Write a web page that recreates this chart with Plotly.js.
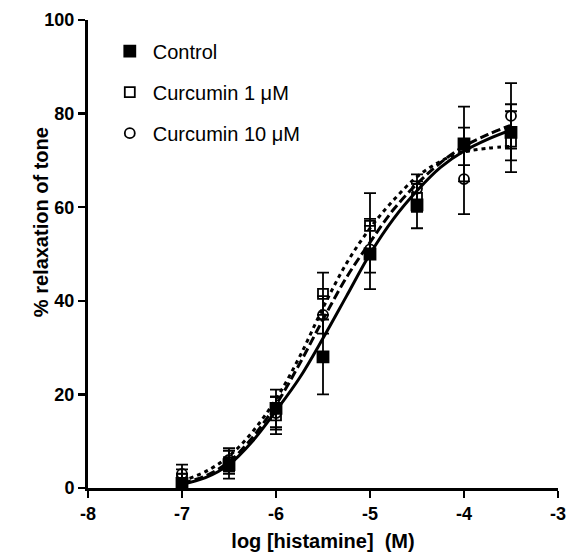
<!DOCTYPE html>
<html>
<head>
<meta charset="utf-8">
<script src="https://cdn.plot.ly/plotly-3.0.1.min.js"></script>
<style>html,body{margin:0;padding:0;background:#fff;}#chart{width:567px;height:557px;}</style>
</head>
<body>
<div id="chart"></div>
<script>
// Concentrations (log M)
var logConc = [-7, -6.5, -6, -5.5, -5, -4.5, -4, -3.5];

// Mean responses (% relaxation) and SEM
var controlMean = [1, 5, 17, 28, 50, 60.5, 73.5, 76];
var controlErr  = [2, 3, 4, 8, 7.5, 5, 8, 6];
var curc1Mean   = [2, 5.5, 15.5, 41.5, 56, 62, 73, 74];
var curc1Err    = [2, 2.5, 4, 4.5, 7, 3, 4, 6.5];
var curc10Mean  = [3, 6, 16, 37, 51, 64, 66, 79.5];
var curc10Err   = [2, 2.5, 3.5, 4, 5, 3, 7.5, 7];

// Fitted curves
var curveX      = [-7, -6.75, -6.5, -6.25, -6, -5.75, -5.5, -5.25, -5, -4.75, -4.5, -4.25, -4, -3.75, -3.5];
var controlFit  = [0.8, 2.2, 5, 10, 16.5, 23.5, 32, 41, 50, 57.5, 63.5, 68.5, 72, 74.5, 76.5];
var curc1Fit    = [1.5, 3.5, 6.8, 12, 19, 28, 38.5, 48, 55.5, 61.5, 66.5, 69.8, 71.8, 72.6, 73];
var curc10Fit   = [1, 2.6, 5.6, 10.8, 17.8, 26.5, 36, 45, 52.5, 59.5, 65, 69.5, 73, 75.5, 77.5];

var seriesNames = ['Control', 'Curcumin 1 \u03bcM', 'Curcumin 10 \u03bcM'];
var xTicks = [-8, -7, -6, -5, -4, -3];
var yTicks = [0, 20, 40, 60, 80, 100];

var FONT = 'Arial, "Liberation Sans", sans-serif';

function curve(y, dash) {
  return {x: curveX, y: y, mode: 'lines', line: {color: '#000', width: 3, dash: dash, shape: 'spline'},
          showlegend: false, hoverinfo: 'skip', cliponaxis: false};
}
function pts(y, err, name, symbol, size, group) {
  return {x: logConc, y: y, name: name, mode: 'markers', legendgroup: group,
          marker: {symbol: symbol, size: size, color: '#000', line: {color: '#000', width: 1.8}},
          error_y: {type: 'data', array: err, visible: true, color: '#000', thickness: 1.8, width: 6},
          cliponaxis: false};
}

var data = [
  curve(controlFit, 'solid'),
  curve(curc1Fit, '4px,4px'),
  curve(curc10Fit, '9px,4px'),
  pts(controlMean, controlErr, seriesNames[0], 'square', 11, 'a'),
  pts(curc1Mean, curc1Err, seriesNames[1], 'square-open', 10, 'b'),
  pts(curc10Mean, curc10Err, seriesNames[2], 'circle-open', 10, 'c')
];

var layout = {
  width: 567, height: 557,
  margin: {l: 88, r: 9, t: 20, b: 69},
  paper_bgcolor: '#fff', plot_bgcolor: '#fff',
  font: {family: FONT, color: '#000'},
  showlegend: true,
  legend: {x: 0.04, y: 0.975, xanchor: 'left', yanchor: 'top', bgcolor: 'rgba(0,0,0,0)',
           font: {family: FONT, size: 20, color: '#000'}, traceorder: 'grouped', tracegroupgap: 12,
           itemwidth: 36},
  xaxis: {range: [-8, -3], tickvals: xTicks, ticktext: xTicks.map(String), showgrid: false, zeroline: false,
          showline: true, linewidth: 3, linecolor: '#000', ticks: 'outside', ticklen: 7, tickwidth: 2.5, tickcolor: '#000',
          tickfont: {family: FONT, size: 18, color: '#000', weight: 'bold'},
          title: {text: '<b>log [histamine]  (M)</b>', font: {family: FONT, size: 20, color: '#000'}, standoff: 12}},
  yaxis: {range: [0, 100], tickvals: yTicks, showgrid: false, zeroline: false,
          showline: true, linewidth: 3, linecolor: '#000', ticks: 'outside', ticklen: 7, tickwidth: 2.5, tickcolor: '#000',
          tickfont: {family: FONT, size: 18, color: '#000', weight: 'bold'}},
  annotations: [{text: '<b>% relaxation of tone</b>', textangle: -90, xref: 'paper', yref: 'paper',
                 x: -0.1, y: 0.568, xanchor: 'center', yanchor: 'middle', showarrow: false,
                 font: {family: FONT, size: 20, color: '#000'}}]
};

Plotly.newPlot('chart', data, layout, {displayModeBar: false, staticPlot: true});
</script>
</body>
</html>
